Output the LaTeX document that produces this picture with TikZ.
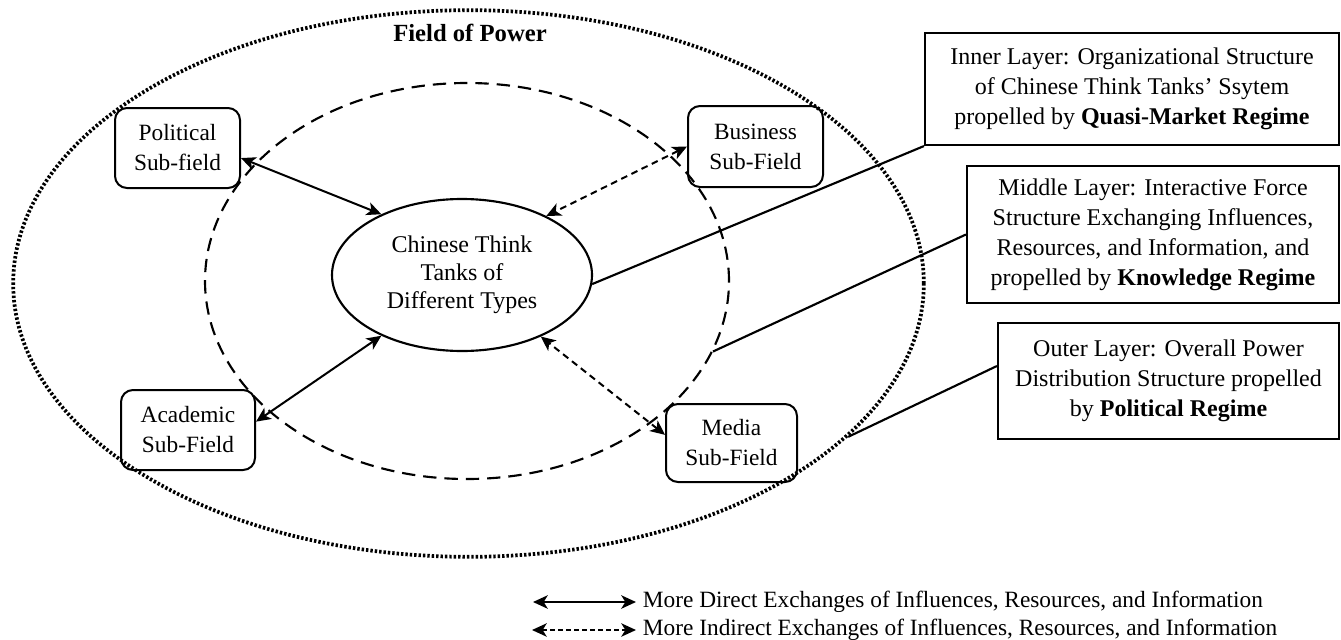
\documentclass[tikz,border=0pt]{standalone}
\usepackage{fontspec}
\setmainfont{Liberation Serif}
\usetikzlibrary{arrows.meta,shapes.geometric}

\begin{document}
\begin{tikzpicture}[x=0.75pt,y=-0.75pt,
  subfield/.style={draw,rounded corners=9pt,line width=1.5pt,align=center,
    inner sep=0pt,font=\fontsize{17.5}{22.5}\selectfont},
  layerbox/.style={draw,line width=1.6pt,align=center,inner sep=0pt,
    font=\fontsize{18}{22.5}\selectfont},
  link/.style={{Stealth[length=11pt,width=10pt,inset=3pt]}-{Stealth[length=11pt,width=10pt,inset=3pt]},line width=1.5pt},
  ilink/.style={link,dash pattern=on 5pt off 3.5pt},
  layerline/.style={line width=1.6pt},
  legend/.style={anchor=west,inner sep=0pt,inner xsep=5pt,
    font=\fontsize{17.5}{21}\selectfont}]
  \useasboundingbox (0,0) rectangle (1341,639);

  %% the three layers
  \node[draw,ellipse,line width=2.8pt,dash pattern=on 1.8pt off 1.5pt,
    minimum width=683pt,minimum height=410pt] (power) at (468.5,283.5) {};
  \node[draw,ellipse,line width=1.6pt,dash pattern=on 10pt off 6pt,
    minimum width=393pt,minimum height=297pt] (mid) at (467,281) {};
  \node[draw,ellipse,line width=1.6pt,inner sep=0pt,align=center,
    minimum width=195pt,minimum height=114pt,
    font=\fontsize{18}{21}\selectfont] (think) at (462,275)
    {Chinese Think\\Tanks of\\Different Types};
  \node[font=\fontsize{18.5}{22}\selectfont\bfseries] (fieldlabel) at (470,33)
    {Field of Power};

  %% sub-fields
  \node[subfield,minimum width=93.75pt,minimum height=60pt] (political)
    at (177.5,148) {Political\\Sub-field};
  \node[subfield,minimum width=101.25pt,minimum height=60.75pt] (business)
    at (755.5,146.5) {Business\\Sub-Field};
  \node[subfield,minimum width=100.5pt,minimum height=60pt] (academic)
    at (188,430) {Academic\\Sub-Field};
  \node[subfield,minimum width=98.25pt,minimum height=58.5pt] (media)
    at (731.5,443) {Media\\Sub-Field};

  \draw[link] (political.-9) -- (think.143);
  \draw[link] (academic.7) -- (think.-143);
  \draw[ilink] (business.west) -- (think.35);
  \draw[ilink] (media.173) -- (think.-38);

  %% layer notes
  \node[layerbox,minimum width=310.5pt,minimum height=84pt] (inner)
    at (1132,89) {Inner Layer: Organizational Structure\\
    of Chinese Think Tanks’ Ssytem\\
    propelled by \textbf{Quasi-Market Regime}};
  \node[layerbox,minimum width=279pt,minimum height=102.75pt] (middle)
    at (1153,234.5) {Middle Layer: Interactive Force\\
    Structure Exchanging Influences,\\
    Resources, and Information, and\\
    propelled by \textbf{Knowledge Regime}};
  \node[layerbox,minimum width=255.75pt,minimum height=87pt] (outer)
    at (1168.5,381) {Outer Layer: Overall Power\\
    Distribution Structure propelled\\
    by \textbf{Political Regime}};

  \draw[layerline] (inner.south west) -- (think.-4);
  \draw[layerline] (middle.west) -- (mid.-16);
  \draw[layerline] (outer.175) -- (power.-22);

  %% legend
  \node[legend] (ldirect) at (636,602)
    {More Direct Exchanges of Influences, Resources, and Information};
  \node[legend] (lindirect) at (636,630)
    {More Indirect Exchanges of Influences, Resources, and Information};
  \coordinate (ldstart) at (533,602);
  \coordinate (listart) at (532,630);
  \draw[link,line width=1.8pt] (ldstart) -- (ldirect.west);
  \draw[ilink,line width=1.5pt,dash pattern=on 3.5pt off 2.5pt] (listart) -- (lindirect.west);
\end{tikzpicture}
\end{document}
